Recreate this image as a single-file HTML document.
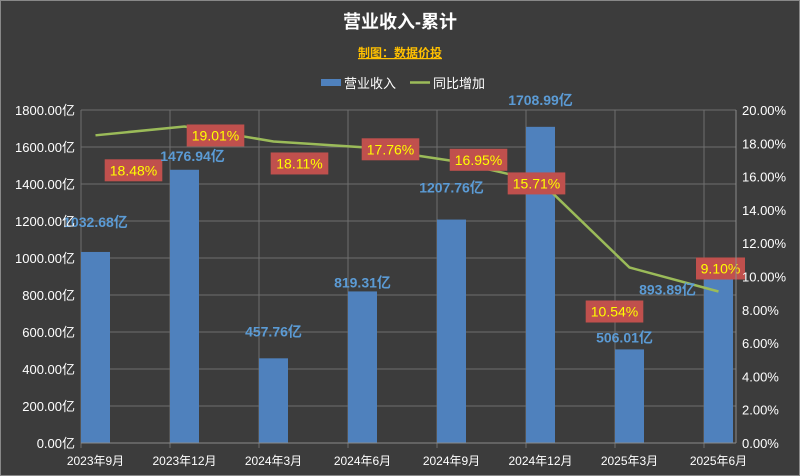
<!DOCTYPE html>
<html><head><meta charset="utf-8"><style>
body{margin:0;background:#3c3c3c;}
svg{display:block;font-family:"Liberation Sans","Noto Sans CJK SC",sans-serif;}
</style></head><body>
<svg width="800" height="476" viewBox="0 0 800 476">
<rect x="0.5" y="0.5" width="799" height="475" fill="#3c3c3c" stroke="#888"/>
<text x="400" y="28" text-anchor="middle" fill="#fff" font-size="18" font-weight="bold">营业收入-累计</text>
<text x="400" y="57" text-anchor="middle" fill="#ffc000" font-size="12" font-weight="bold" text-decoration="underline">制图：数据价投</text>
<g>
<rect x="321" y="79" width="20" height="7" fill="#4f81bd"/>
<text x="344" y="88" fill="#fff" font-size="13">营业收入</text>
<line x1="410" y1="82.5" x2="430" y2="82.5" stroke="#9bbb59" stroke-width="2.5"/>
<text x="433" y="88" fill="#fff" font-size="13">同比增加</text>
</g>
<g id="grid"></g><g id="bars"></g><g id="line"></g><g id="labels"></g><g id="axes"></g>
</svg>
<script>
const categories=["2023年9月","2023年12月","2024年3月","2024年6月","2024年9月","2024年12月","2025年3月","2025年6月"];
const revenue=[1032.68,1476.94,457.76,819.31,1207.76,1708.99,506.01,893.89];
const growth=[18.48,19.01,18.11,17.76,16.95,15.71,10.54,9.10];
const leftTicks=[0,200,400,600,800,1000,1200,1400,1600,1800];
const rightTicks=[0,2,4,6,8,10,12,14,16,18,20];
const NS="http://www.w3.org/2000/svg";
const PT=110,PB=443,PL=81,PR=736,STEP=89,BW=29;
const yL=v=>PB-v/1800*(PB-PT);
const yR=v=>PB-v/20*(PB-PT);
const xC=i=>PL+STEP*i+BW/2;
function mk(t,a,p){const e=document.createElementNS(NS,t);for(const k in a)e.setAttribute(k,a[k]);document.getElementById(p).appendChild(e);return e;}
leftTicks.forEach(v=>{
 const l=mk('line',{x1:PL,x2:PR,y1:yL(v),y2:yL(v),stroke:'#6e6e6e'},'grid');
 
 
 const t=mk('text',{x:PL-6,y:yL(v)+5,'text-anchor':'end',fill:'#fff','font-size':13},'axes');
 t.textContent=v.toFixed(2)+'亿';
 
 
});
rightTicks.forEach(v=>{
 const t=mk('text',{x:PR+6,y:yR(v)+5,fill:'#fff','font-size':13},'axes');
 t.textContent=v.toFixed(2)+'%';
 
 
});
for(let i=0;i<8;i++){
 const l=mk('line',{x1:PL+STEP*i,x2:PL+STEP*i,y1:PT,y2:PB+5,stroke:'#6e6e6e'},'grid');
 
 
}
mk('line',{x1:PL,x2:PR,y1:PB,y2:PB,stroke:'#8a8a8a'},'axes');
mk('line',{x1:PR,x2:PR,y1:PT,y2:PB,stroke:'#8a8a8a'},'axes');
const dxB=[0,8,0,0,0,0,-5,-51],dyB=[-30,-14,-27,-9,-32,-27,-12,12];
const dxP=[38,31,26,28,27,-4,-15,2],dyP=[35,9,22,2,-1,2,44,-23];
categories.forEach((c,i)=>{
 const b=mk('rect',{x:PL+STEP*i,y:yL(revenue[i]),width:BW,height:PB-yL(revenue[i]),fill:'#4f81bd'},'bars');
 
 
 const t=mk('text',{x:xC(i),y:PB+22,'text-anchor':'middle',fill:'#fff','font-size':12},'axes');
 t.textContent=c;
 
 
});
const pl=mk('polyline',{points:growth.map((v,i)=>xC(i)+','+yR(v)).join(' '),fill:'none',stroke:'#9bbb59','stroke-width':2.5},'line');


categories.forEach((c,i)=>{
 const t=mk('text',{x:xC(i)+dxB[i],y:yL(revenue[i])+dyB[i]+5,'text-anchor':'middle',fill:'#5b9bd5','font-size':14,'font-weight':'bold'},'labels');
 t.textContent=revenue[i].toFixed(2)+'亿';
 
 
 const s=growth[i].toFixed(2)+'%';
 const w=s.length*8.6+6;
 const cx=xC(i)+dxP[i],cy=yR(growth[i])+dyP[i];
 const r=mk('rect',{x:cx-w/2,y:cy-11,width:w,height:22,fill:'#c0504d'},'labels');
 
 
 const p=mk('text',{x:cx,y:cy+5,'text-anchor':'middle',fill:'#ffff00','font-size':14},'labels');
 p.textContent=s;
 
 
});
</script>
</body></html>
